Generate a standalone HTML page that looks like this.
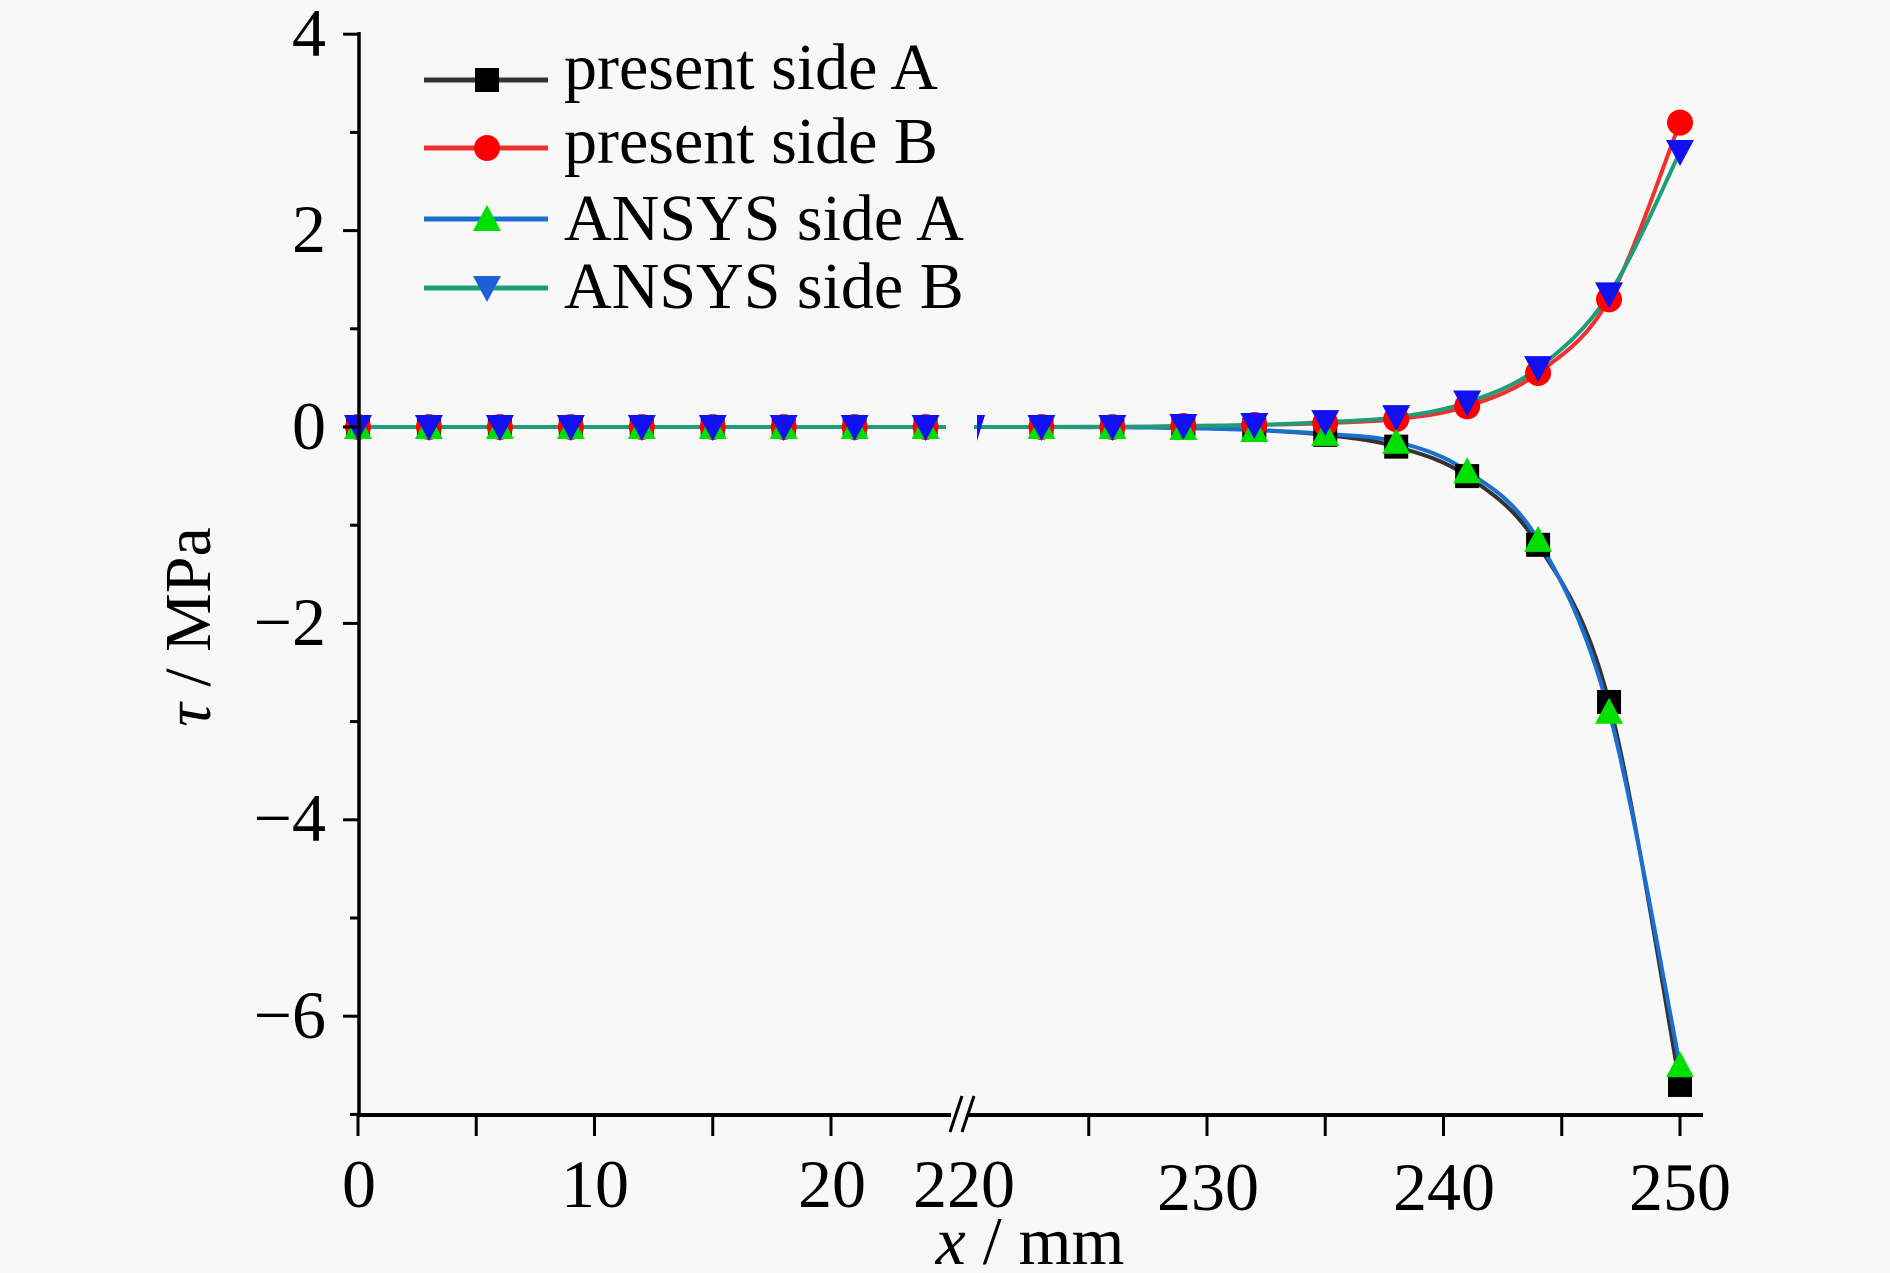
<!DOCTYPE html>
<html><head><meta charset="utf-8"><style>
html,body{margin:0;padding:0;background:#f8f8f8;}
svg{display:block;font-family:"Liberation Serif",serif;}
</style></head><body>
<svg id="s" width="1890" height="1273" viewBox="0 0 1890 1273">
<rect width="1890" height="1273" fill="#f8f8f8"/>
<g id="data"></g>
<line x1="359" y1="32" x2="359" y2="1117" stroke="#000" stroke-width="3.5"/>
<line x1="357" y1="1115" x2="951" y2="1115" stroke="#000" stroke-width="4"/>
<line x1="968" y1="1115" x2="1703" y2="1115" stroke="#000" stroke-width="4"/>
<line x1="950" y1="1132" x2="962" y2="1096" stroke="#000" stroke-width="3"/>
<line x1="962" y1="1132" x2="974" y2="1096" stroke="#000" stroke-width="3"/>
<g stroke="#000" stroke-width="3" id="ticks"></g>
<g font-size="68" text-anchor="end" fill="#000">
<text x="326" y="56">4</text>
<text x="326" y="252">2</text>
<text x="326" y="449">0</text>
<text x="326" y="645">−2</text>
<text x="326" y="841">−4</text>
<text x="326" y="1038">−6</text>
</g>
<g font-size="68" text-anchor="middle" fill="#000">
<text x="359" y="1207">0</text>
<text x="595" y="1207">10</text>
<text x="832" y="1207">20</text>
<text x="964" y="1207">220</text>
<text x="1208" y="1210">230</text>
<text x="1444" y="1210">240</text>
<text x="1680" y="1210">250</text>
<text x="1030" y="1264"><tspan font-style="italic">x</tspan> / mm</text>
</g>
<text transform="translate(210,627) rotate(-90)" font-size="66" text-anchor="middle"><tspan font-style="italic">τ</tspan> / MPa</text>
<g stroke-width="5">
<line x1="424" y1="80" x2="548" y2="80" stroke="#333"/>
<line x1="424" y1="148" x2="548" y2="148" stroke="#f03030"/>
<line x1="424" y1="219" x2="548" y2="219" stroke="#1a6fd0"/>
<line x1="424" y1="288" x2="548" y2="288" stroke="#1e9e78"/>
</g>
<rect x="475" y="68" width="24" height="24" fill="#000"/>
<circle cx="487" cy="148" r="13" fill="#f00"/>
<polygon points="487,205 501,231 473,231" fill="#00e000"/>
<polygon points="487,302 501,276 473,276" fill="#1e5fd8"/>
<g font-size="66" fill="#000">
<text x="564" y="89">present side A</text>
<text x="564" y="163">present side B</text>
<text x="564" y="240">ANSYS side A</text>
<text x="564" y="308">ANSYS side B</text>
</g>
</svg>
<script>
var NS="http://www.w3.org/2000/svg";
function X(x){return x<100?358+23.65*x:970.5+23.65*(x-220);}
function Y(v){return 427-98.2*v;}
var t=document.getElementById('ticks');
function ln(a,b,c,d){var l=document.createElementNS(NS,'line');l.setAttribute('x1',a);l.setAttribute('y1',b);l.setAttribute('x2',c);l.setAttribute('y2',d);t.appendChild(l);}
[0,5,10,15,20,225,230,235,240,245,250].forEach(function(x){ln(X(x),1115,X(x),1136);});
for(var v=-7;v<=4;v++){ln(v%2==0?343:350,Y(v),359,Y(v));}
var xsL=[0,3,6,9,12,15,18,21,24],xsR=[220,223,226,229,232,235,238,241,244,247,250];
function mk(vals){var o={};xsR.forEach(function(x,i){o[x]=vals[i];});return o;}
var S=[
{c:"#333",m:"sq",v:mk([0,0,0,-0.01,-0.03,-0.08,-0.2,-0.5,-1.2,-2.8,-6.7])},
{c:"#f03030",m:"ci",v:mk([0,0,0,0.01,0.02,0.04,0.08,0.21,0.55,1.3,3.1])},
{c:"#1a6fd0",m:"up",v:mk([0,0,0,-0.01,-0.03,-0.07,-0.15,-0.45,-1.15,-2.9,-6.5])},
{c:"#1e9e78",m:"dn",v:mk([0,0,0,0.01,0.02,0.05,0.1,0.25,0.6,1.35,2.8])}];
var g=document.getElementById('data');
function el(n,a){var e=document.createElementNS(NS,n);for(var k in a)e.setAttribute(k,a[k]);g.appendChild(e);return e;}
function path(pts){var d="M"+pts[0][0]+","+pts[0][1];for(var i=0;i<pts.length-1;i++){var p0=pts[Math.max(i-1,0)],p1=pts[i],p2=pts[i+1],p3=pts[Math.min(i+2,pts.length-1)];d+=" C"+(p1[0]+(p2[0]-p0[0])/6)+","+(p1[1]+(p2[1]-p0[1])/6)+" "+(p2[0]-(p3[0]-p1[0])/6)+","+(p2[1]-(p3[1]-p1[1])/6)+" "+p2[0]+","+p2[1];}return d;}
S.forEach(function(s){
 el('line',{x1:358,y1:Y(0),x2:946,y2:Y(0),stroke:s.c,'stroke-width':4});
 var pts=xsR.map(function(x){return [X(x),Y(s.v[x])];});pts[0][0]=974;
 el('path',{d:path(pts),fill:"none",stroke:s.c,'stroke-width':4});
});
function marker(type,x,y){var r=12;
 if(type=="sq")el('rect',{x:x-r,y:y-r,width:2*r,height:2*r,fill:"#000"});
 else if(type=="ci")el('circle',{cx:x,cy:y,r:r+1,fill:"#f00"});
 else if(type=="up")el('polygon',{points:x+","+(y-r-2)+" "+(x+r+2)+","+(y+r)+" "+(x-r-2)+","+(y+r),fill:"#00e000"});
 else el('polygon',{points:x+","+(y+r+2)+" "+(x+r+2)+","+(y-r)+" "+(x-r-2)+","+(y-r),fill:"#1010f0"});}
S.forEach(function(s){
 xsL.forEach(function(x){marker(s.m,X(x),Y(0));});
 xsR.forEach(function(x){if(x==220)return;marker(s.m,X(x),Y(s.v[x]));});
});
S.forEach(function(s){var x=977,y=Y(0);
 if(s.m=="dn")el('polygon',{points:x+","+(y+14)+" "+(x+8)+","+(y-12)+" "+x+","+(y-12),fill:"#1010f0"});});
</script>
</body></html>
